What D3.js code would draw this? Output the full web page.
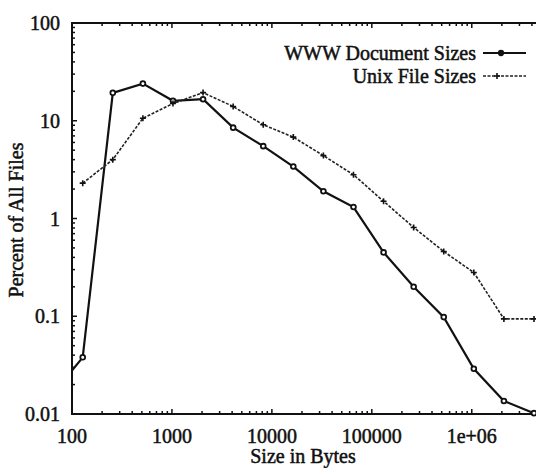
<!DOCTYPE html>
<html>
<head>
<meta charset="utf-8">
<script src="https://cdn.jsdelivr.net/npm/d3@7"></script>
<style>
  body { margin: 0; background: #fff; }
  svg { display: block; }
  text { font-family: "Liberation Serif", "DejaVu Serif", serif; fill: #111; stroke: #111; stroke-width: 0.5px; }
</style>
</head>
<body>
<svg id="chart"></svg>
<script>
const width = 536;
const height = 468;

// file sizes in bytes (powers of two)
const sizes = [64, 128, 256, 512, 1024, 2048, 4096, 8192, 16384, 32768, 65536,
  131072, 262144, 524288, 1048576, 2097152, 4194304];

// percent of all files
const wwwValues = [0.016, 0.038, 19.3, 24.0, 16.0, 16.6, 8.5, 5.5, 3.4, 1.9, 1.31,
  0.45, 0.2, 0.098, 0.029, 0.0136, 0.0102];
const unixValues = [null, 2.3, 4.0, 10.6, 15.0, 19.4, 14.0, 9.1, 6.8, 4.4, 2.8,
  1.5, 0.81, 0.46, 0.28, 0.094, 0.094];

const xTicks = [100, 1000, 10000, 100000, 1000000];
const xTickLabels = ["100", "1000", "10000", "100000", "1e+06"];
const yTicks = [0.01, 0.1, 1, 10, 100];
const yTickLabels = ["0.01", "0.1", "1", "10", "100"];

const seriesNames = ["WWW Document Sizes", "Unix File Sizes"];

const svg = d3.select("#chart")
  .attr("width", width)
  .attr("height", height);

const x = d3.scaleLog()
  .domain([100, 4194304])
  .range([72, 534]);

const y = d3.scaleLog()
  .domain([0.01, 100])
  .range([414, 23]);

svg.append("clipPath")
  .attr("id", "plot-clip")
  .append("rect")
  .attr("x", 72)
  .attr("y", 20)
  .attr("width", 470)
  .attr("height", 400);

// minor ticks 2..9 for each decade
const minor = (lo, hi) => {
  const out = [];
  for (let d = lo; d < hi; d *= 10) {
    for (let k = 2; k <= 9; k++) out.push(d * k);
  }
  return out;
};
const xMinor = minor(100, 1e7).filter(v => v < 4.4e6);
const yMinor = minor(0.01, 100);

const axes = svg.append("g")
  .attr("stroke", "#111")
  .attr("fill", "none");

// border: left, bottom, top (right edge falls outside the picture)
axes.append("path")
  .attr("stroke-width", 2)
  .attr("d", `M540,${y(100)}H${x(100)}V${y(0.01)}H540`);

axes.selectAll(".xmaj")
  .data(xTicks)
  .enter()
  .append("path")
  .attr("stroke-width", 1.5)
  .attr("d", d => `M${x(d)},${y(0.01)}v-5M${x(d)},${y(100)}v5`);

axes.selectAll(".xmin")
  .data(xMinor)
  .enter()
  .append("path")
  .attr("stroke-width", 1.5)
  .attr("d", d => `M${x(d)},${y(0.01)}v-3M${x(d)},${y(100)}v3`);

axes.selectAll(".ymaj")
  .data(yTicks)
  .enter()
  .append("path")
  .attr("stroke-width", 1.5)
  .attr("d", d => `M${x(100)},${y(d)}h5`);

axes.selectAll(".ymin")
  .data(yMinor)
  .enter()
  .append("path")
  .attr("stroke-width", 1.5)
  .attr("d", d => `M${x(100)},${y(d)}h3`);

svg.selectAll(".xlab")
  .data(xTicks)
  .enter()
  .append("text")
  .attr("x", d => x(d))
  .attr("y", 443)
  .attr("text-anchor", "middle")
  .attr("font-size", 20)
  .text((d, i) => xTickLabels[i]);

svg.selectAll(".ylab")
  .data(yTicks)
  .enter()
  .append("text")
  .attr("x", 60)
  .attr("y", d => y(d))
  .attr("dy", "0.35em")
  .attr("text-anchor", "end")
  .attr("font-size", 20)
  .text((d, i) => yTickLabels[i]);

svg.append("text")
  .attr("x", 303)
  .attr("y", 463)
  .attr("text-anchor", "middle")
  .attr("font-size", 20)
  .text("Size in Bytes");

svg.append("text")
  .attr("transform", "translate(23,220) rotate(-90)")
  .attr("text-anchor", "middle")
  .attr("font-size", 20)
  .text("Percent of All Files");

const line = d3.line()
  .x(d => x(d[0]))
  .y(d => y(d[1]));

const wwwData = sizes.map((s, i) => [s, wwwValues[i]]);
const unixData = sizes.map((s, i) => [s, unixValues[i]]).filter(d => d[1] != null);

const plot = svg.append("g").attr("clip-path", "url(#plot-clip)");

plot.append("path")
  .datum(wwwData)
  .attr("fill", "none")
  .attr("stroke", "#111")
  .attr("stroke-width", 2.2)
  .attr("d", line);

plot.append("path")
  .datum(unixData)
  .attr("fill", "none")
  .attr("stroke", "#222")
  .attr("stroke-width", 1.6)
  .attr("stroke-dasharray", "3,1.5")
  .attr("d", line);

const dot = d3.symbol().type(d3.symbolCircle).size(18);

plot.selectAll(".www-pt")
  .data(wwwData.filter(d => d[0] >= 100))
  .enter()
  .append("path")
  .attr("transform", d => `translate(${x(d[0])},${y(d[1])})`)
  .attr("d", dot)
  .attr("fill", "#fff")
  .attr("stroke", "#111")
  .attr("stroke-width", 1.8);

plot.selectAll(".unix-pt")
  .data(unixData)
  .enter()
  .append("path")
  .attr("d", d => `M${x(d[0]) - 3},${y(d[1])}h6M${x(d[0])},${y(d[1]) - 3}v6`)
  .attr("stroke", "#111")
  .attr("stroke-width", 1.6);

// legend
const legend = svg.append("g");
const legendY = [53, 76];

legend.selectAll("text")
  .data(seriesNames)
  .enter()
  .append("text")
  .attr("x", 476)
  .attr("y", (d, i) => legendY[i])
  .attr("dy", "0.35em")
  .attr("text-anchor", "end")
  .attr("font-size", 20)
  .text(d => d);

legend.append("path")
  .attr("d", `M483,${legendY[0]}H526`)
  .attr("stroke", "#111")
  .attr("stroke-width", 1.8);

legend.append("path")
  .attr("transform", `translate(501,${legendY[0]})`)
  .attr("d", dot)
  .attr("fill", "#111")
  .attr("stroke", "#111")
  .attr("stroke-width", 1.5);

legend.append("path")
  .attr("d", `M483,${legendY[1]}H526`)
  .attr("stroke", "#222")
  .attr("stroke-width", 1.6)
  .attr("stroke-dasharray", "3,1.5");

legend.append("path")
  .attr("d", `M${497 - 3},${legendY[1]}h6M497,${legendY[1] - 3}v6`)
  .attr("stroke", "#111")
  .attr("stroke-width", 1.6);
</script>
</body>
</html>
